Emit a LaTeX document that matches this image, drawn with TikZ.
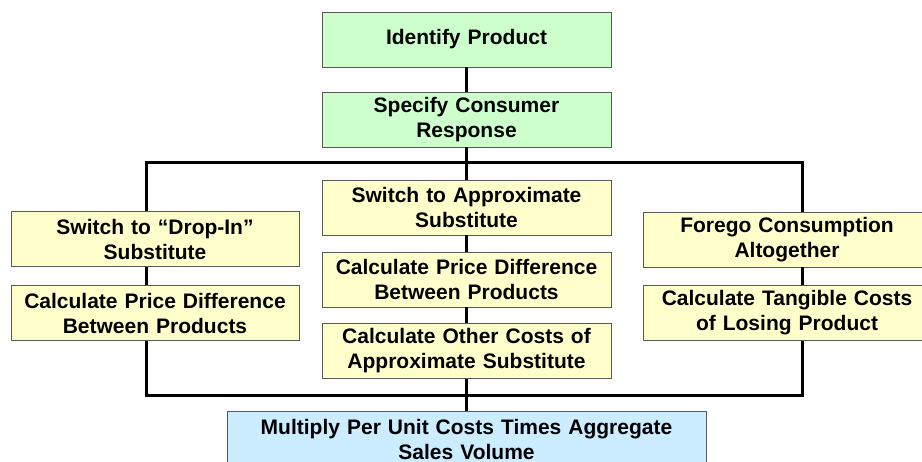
\documentclass[tikz,border=0pt]{standalone}
\usepackage{fontspec}
\setmainfont{Liberation Sans}
\usetikzlibrary{positioning}
\definecolor{stepgreen}{HTML}{CCFFCC}
\definecolor{stepyellow}{HTML}{FFFFCC}
\definecolor{stepblue}{HTML}{CCECFF}

\begin{document}
\begin{tikzpicture}[x=1pt, y=-1pt,
    box/.style={draw=black!65, line width=0.8pt, text width=280pt, minimum width=289pt, minimum height=55pt,
        align=center, inner sep=0pt, font=\fontsize{21}{25}\selectfont\bfseries},
    green box/.style={box, fill=stepgreen},
    yellow box/.style={box, fill=stepyellow},
    blue box/.style={box, fill=stepblue, text width=470pt, minimum width=479pt, minimum height=56pt},
    link/.style={line width=3pt}]
\useasboundingbox (0,0) rectangle (922,462);
\clip (0,0) rectangle (922,462);

% main column
\node[green box] (ident) at (466.5,39.5) {Identify Product};
\node[green box] (spec) at (466.5,119.5) {Specify Consumer\\Response};
\node[yellow box] (approx) at (466.5,207.5) {Switch to Approximate\\Substitute};
\node[yellow box] (pricemid) at (466.5,279.5) {Calculate Price Difference\\Between Products};
\node[yellow box] (other) at (466.5,351) {Calculate Other Costs of\\Approximate Substitute};
\node[blue box] (mult) at (466.5,439) {Multiply Per Unit Costs Times Aggregate\\Sales Volume};

% left and right columns
\node[yellow box, minimum width=288pt] (dropin) at (155,239) {Switch to ``Drop-In''\\Substitute};
\node[yellow box, minimum width=288pt] (priceleft) at (155,313) {Calculate Price Difference\\Between Products};
\node[yellow box, minimum width=288pt] (forego) at (787,239.5) {Forego Consumption\\Altogether};
\node[yellow box, minimum width=288pt] (tangible) at (787,313) {Calculate Tangible Costs\\of Losing Product};

% bar corners
\coordinate (topleft) at (146.5,163);
\coordinate (topright) at (802.5,163);
\coordinate (botleft) at (146.5,396);
\coordinate (botright) at (802.5,396);

\draw[link] (ident) -- (spec);
\draw[link] (spec) -- (approx);
\draw[link] (approx) -- (pricemid);
\draw[link] (pricemid) -- (other);
\draw[link] (other) -- (mult);
\draw[link] (topleft |- dropin.north) -- (topleft) -- (topright) -- (topright |- forego.north);
\draw[link] (topleft |- dropin.south) -- (topleft |- priceleft.north);
\draw[link] (topright |- forego.south) -- (topright |- tangible.north);
\draw[link] (botleft |- priceleft.south) -- (botleft) -- (botright) -- (botright |- tangible.south);
\end{tikzpicture}
\end{document}
